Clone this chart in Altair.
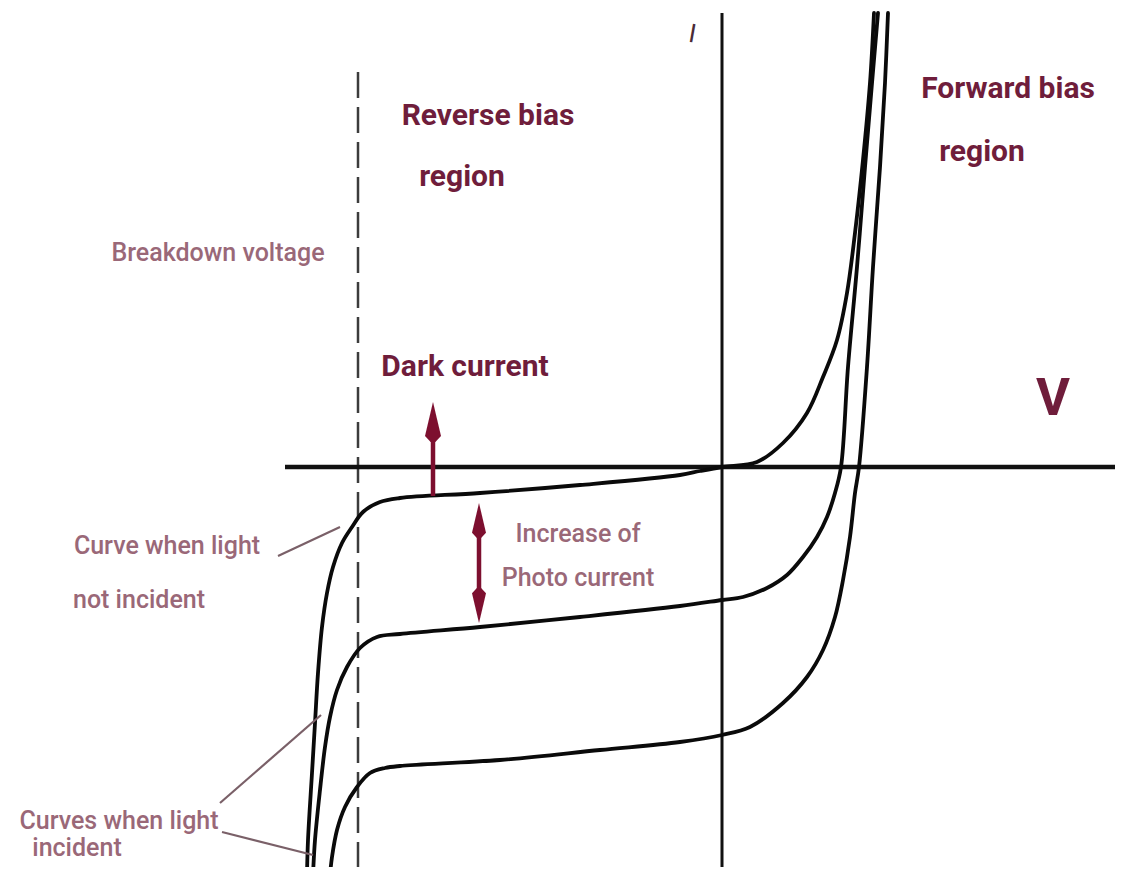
import altair as alt
import pandas as pd

# ---------------- data (V, I measured from the origin of the diagram) ----------------
dark_v = [-415, -414, -410, -407, -404, -400, -395, -389, -380, -370, -359, -342, -322,
          -242, -142, -42, -22, 0, 35, 61, 85, 101, 115, 125, 133, 141, 148, 152]
dark_i = [-408, -373, -306, -256, -206, -160, -126, -100, -76, -60, -45, -35, -31,
          -26, -18, -8, -4, 0, 5, 24, 54, 90, 127, 174, 234, 307, 384, 454]

light1_v = [-409, -407, -402, -397, -392, -385, -375, -362, -345, -322, -242, -142, -42, 0,
            21, 45, 65, 81, 95, 105, 113, 119, 126, 135, 143, 150, 156]
light1_i = [-408, -373, -323, -280, -250, -223, -200, -181, -170, -167, -160, -150, -139, -133,
            -130, -121, -108, -90, -70, -50, -26, 0, 100, 200, 300, 384, 454]

light2_v = [-392, -390, -385, -377, -365, -352, -337, -322, -222, -122, -42, 0, 28, 61, 85,
            101, 113, 121, 128, 133, 137, 145, 151, 158, 163, 166]
light2_i = [-408, -390, -363, -340, -320, -306, -301, -299, -293, -283, -275, -268, -260, -236, -210,
            -183, -150, -113, -70, -26, 0, 100, 200, 300, 384, 454]

breakdown_v = -364

bold_labels = ["Reverse bias", "region", "Forward bias", "region", "Dark current"]
bold_v = [-234, -260, 286, 260, -257]
bold_i = [342, 281, 369, 306, 91]

light_labels = ["Breakdown voltage", "Increase of", "Photo current", "Curve when light",
                "not incident", "Curves when light", "incident"]
light_v = [-504, -144, -144, -555, -583, -603, -645]
light_i = [206, -75, -119, -87, -141, -362, -389]

leader_id = ["a", "a", "b", "b", "c", "c"]
leader_v = [-444, -382, -502, -401, -500, -409]
leader_i = [-89, -60, -336, -248, -365, -388]

# ---------------- frames ----------------
rows = []
for name, vs, is_ in [("dark", dark_v, dark_i), ("light1", light1_v, light1_i), ("light2", light2_v, light2_i)]:
    for k, (v, i) in enumerate(zip(vs, is_)):
        rows.append({"curve": name, "seq": k, "V": v, "I": i})
curves = pd.DataFrame(rows)

bold_df = pd.DataFrame({"V": bold_v, "I": bold_i, "label": bold_labels})
light_df = pd.DataFrame({"V": light_v, "I": light_i, "label": light_labels})
leader_df = pd.DataFrame({"g": leader_id, "V": leader_v, "I": leader_i,
                          "seq": list(range(len(leader_id)))})

xs = alt.Scale(domain=[-714, 393], nice=False, zero=False)
ys = alt.Scale(domain=[-400, 459], nice=False, zero=False)

def X(f="V"):
    return alt.X(f"{f}:Q", scale=xs, axis=None)

def Y(f="I"):
    return alt.Y(f"{f}:Q", scale=ys, axis=None)

FONT = "Roboto"
MAROON = "#6f1d3b"
MAUVE = "#9a6878"
ARROW = "#7d0f2f"

base = alt.Chart(pd.DataFrame({"V": [0], "I": [0]}))

h_axis = base.mark_rule(color="#111111", strokeWidth=4.5).encode(
    x=alt.X("a:Q", scale=xs, axis=None), x2="b:Q", y=Y()
).transform_calculate(a="-437", b="396")

v_axis = base.mark_rule(color="#111111", strokeWidth=3).encode(
    x=X(), y=alt.Y("a:Q", scale=ys, axis=None), y2="b:Q"
).transform_calculate(a="454", b="-412")

dash_line = base.mark_rule(color="#3c3c3c", strokeWidth=2.5, strokeDash=[26, 9]).encode(
    x=alt.X("x:Q", scale=xs, axis=None), y=alt.Y("a:Q", scale=ys, axis=None), y2="b:Q"
).transform_calculate(x=str(breakdown_v), a="395", b="-412")

curve_layer = alt.Chart(curves).mark_line(
    color="#0a0a0a", strokeWidth=3.8, interpolate="catmull-rom", strokeCap="round"
).encode(x=X(), y=Y(), detail="curve:N", order="seq:Q")

leader_layer = alt.Chart(leader_df).mark_line(color="#7a6068", strokeWidth=2.2).encode(
    x=X(), y=Y(), detail="g:N", order="seq:Q"
)

# arrows
arrow_shafts = pd.DataFrame({"V": [-289, -243], "I": [-29, -50], "I2": [45, -140]})
shaft_layer = alt.Chart(arrow_shafts).mark_rule(color=ARROW, strokeWidth=4.5).encode(
    x=X(), y=Y(), y2="I2:Q"
)
up_heads = pd.DataFrame({"V": [-289, -243], "I": [45, -53.5], "s": [1600, 1225]})
down_heads = pd.DataFrame({"V": [-243], "I": [-138.5], "s": [1225]})
up_layer = alt.Chart(up_heads).mark_point(
    shape="M0,-1L0.4,0.7L0.12,1L-0.12,1L-0.4,0.7Z", filled=True, color=ARROW, opacity=1, strokeWidth=0
).encode(x=X(), y=Y(), size=alt.Size("s:Q", scale=None, legend=None))
down_layer = alt.Chart(down_heads).mark_point(
    shape="M0,1L0.4,-0.7L0.12,-1L-0.12,-1L-0.4,-0.7Z", filled=True, color=ARROW, opacity=1, strokeWidth=0
).encode(x=X(), y=Y(), size=alt.Size("s:Q", scale=None, legend=None))

bold_text = alt.Chart(bold_df).mark_text(
    font=FONT, fontSize=30, fontWeight="bold", color=MAROON, align="center", baseline="alphabetic"
).encode(x=X(), y=Y(), text="label:N")

light_text = alt.Chart(light_df).mark_text(
    font=FONT, fontSize=25, fontWeight=500, color=MAUVE, align="center", baseline="alphabetic"
).encode(x=X(), y=Y(), text="label:N")

v_label = alt.Chart(pd.DataFrame({"V": [331], "I": [52], "label": ["V"]})).mark_text(
    font=FONT, fontSize=52, fontWeight="bold", color=MAROON, align="center", baseline="alphabetic"
).encode(x=X(), y=Y(), text="label:N")

i_label = alt.Chart(pd.DataFrame({"V": [-31], "I": [425], "label": ["I"]})).mark_text(
    font=FONT, fontSize=26, color="#4a2b36", align="center", baseline="alphabetic", angle=10
).encode(x=X(), y=Y(), text="label:N")

chart = alt.layer(
    dash_line, h_axis, v_axis, curve_layer, leader_layer,
    shaft_layer, up_layer, down_layer,
    bold_text, light_text, v_label, i_label,
).properties(
    width=1107, height=859, padding=0,
    autosize=alt.AutoSizeParams(type="none"),
    background="white",
).configure_view(stroke=None)

chart.save("out.html", embed_options={"renderer": "svg", "actions": False})
